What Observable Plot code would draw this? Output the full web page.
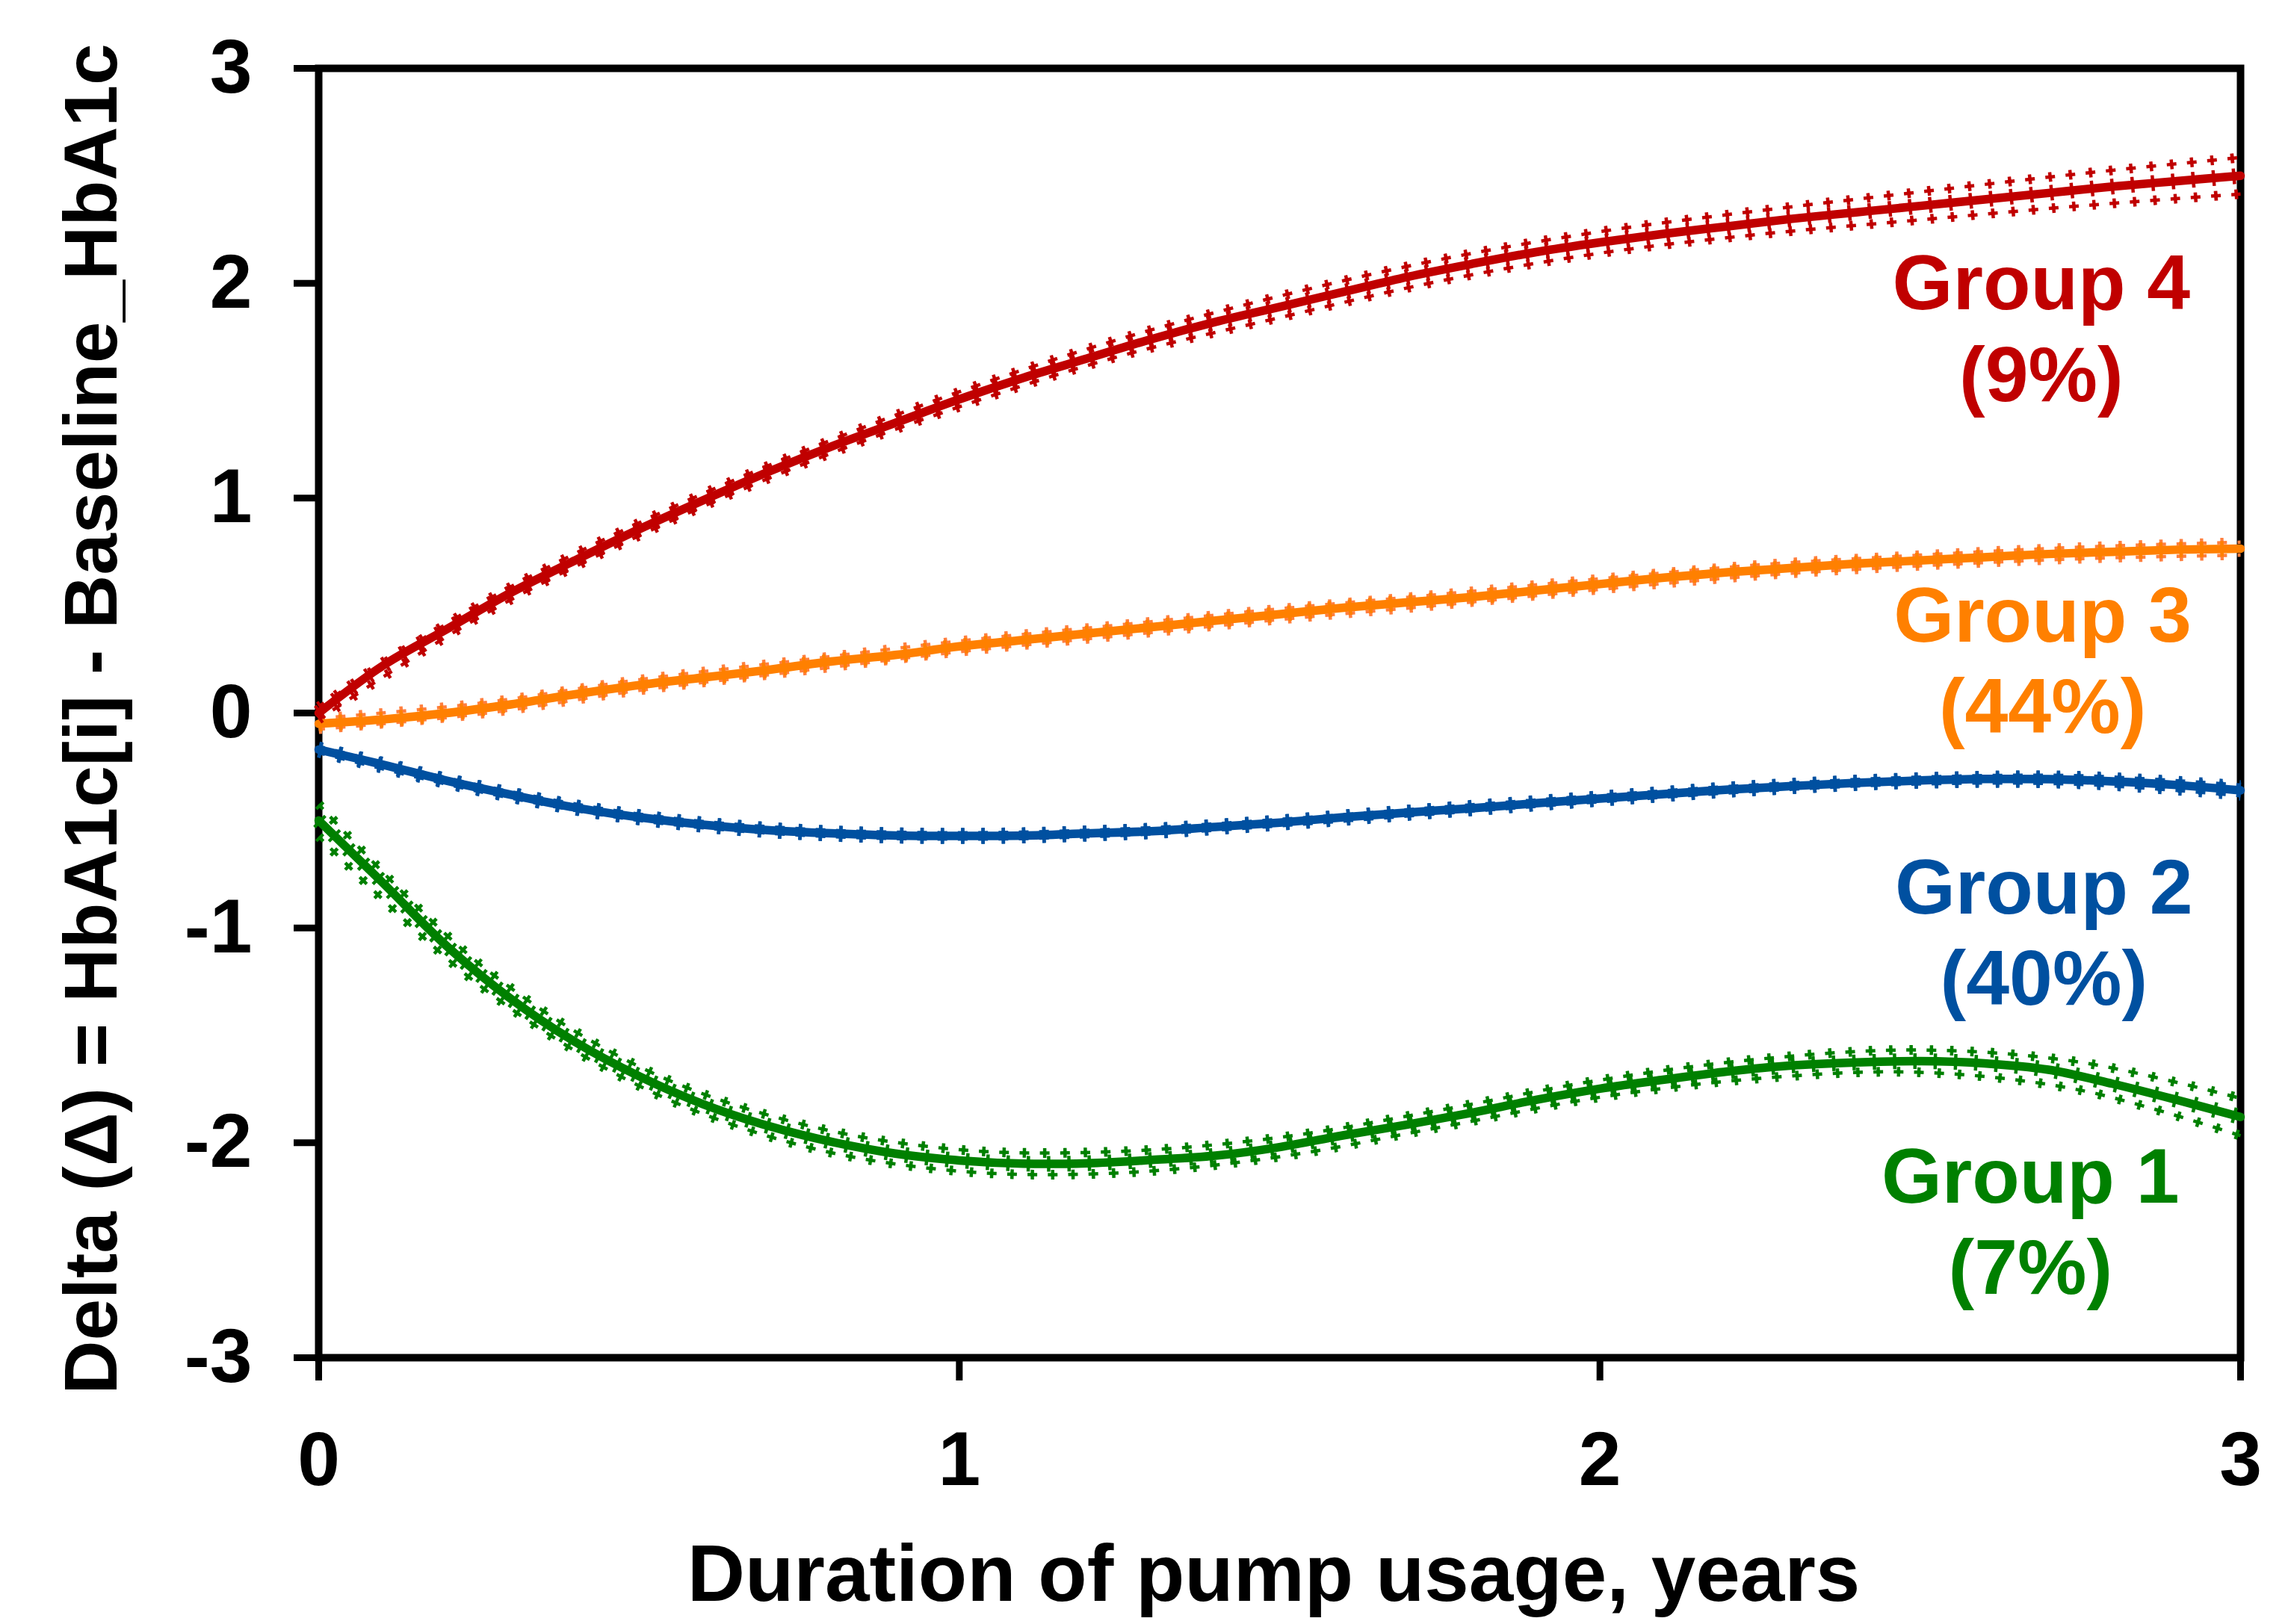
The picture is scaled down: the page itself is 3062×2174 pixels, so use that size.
<!DOCTYPE html>
<html><head><meta charset="utf-8">
<script src="https://cdn.jsdelivr.net/npm/d3@7"></script>
<script src="https://cdn.jsdelivr.net/npm/@observablehq/plot@0.6"></script>
<style>html,body{margin:0;padding:0;background:#fff;} #chart svg{display:block;}</style>
</head><body><div id="chart"></div>
<script>
// ---- Data ----
const groups = ["Group 1", "Group 2", "Group 3", "Group 4"];
const shares = ["7%", "40%", "44%", "9%"];
const lineColors = ["#008000", "#0050A0", "#FF8000", "#C00000"];
const bandColors = ["#008000", "#0050A0", "#FF7F3F", "#C00000"];

const years = [0, 0.1, 0.2, 0.3, 0.4, 0.5, 0.6, 0.7, 0.8, 0.9, 1.0, 1.1, 1.2, 1.3, 1.4, 1.5,
               1.6, 1.7, 1.8, 1.9, 2.0, 2.1, 2.2, 2.3, 2.4, 2.5, 2.6, 2.7, 2.8, 2.9, 3.0];
const group1Mean = [-0.50, -0.79, -1.085, -1.33, -1.53, -1.69, -1.82, -1.92, -1.995, -2.05, -2.082,
                    -2.097, -2.095, -2.08, -2.06, -2.02, -1.965, -1.915, -1.86, -1.80, -1.748,
                    -1.706, -1.668, -1.64, -1.626, -1.62, -1.63, -1.66, -1.725, -1.80, -1.88];
const group2Mean = [-0.17, -0.24, -0.315, -0.38, -0.44, -0.485, -0.52, -0.545, -0.56, -0.57, -0.572,
                    -0.57, -0.56, -0.55, -0.53, -0.51, -0.485, -0.463, -0.443, -0.42, -0.398,
                    -0.377, -0.356, -0.34, -0.325, -0.314, -0.307, -0.308, -0.318, -0.335, -0.36];
const group3Mean = [-0.05, -0.03, 0.00, 0.04, 0.087, 0.13, 0.165, 0.20, 0.24, 0.27, 0.31,
                    0.34, 0.37, 0.40, 0.43, 0.46, 0.49, 0.515, 0.54, 0.57, 0.60,
                    0.63, 0.655, 0.675, 0.695, 0.71, 0.725, 0.74, 0.75, 0.76, 0.765];
const group4Mean = [0.00, 0.22, 0.39, 0.56, 0.71, 0.855, 0.99, 1.12, 1.24, 1.35, 1.46,
                    1.56, 1.65, 1.74, 1.82, 1.89, 1.96, 2.03, 2.09, 2.145, 2.19,
                    2.23, 2.265, 2.30, 2.33, 2.36, 2.39, 2.42, 2.45, 2.475, 2.50];

const bandYears = [0, 0.25, 0.5, 0.75, 1.0, 1.25, 1.5, 1.75, 2.0, 2.25, 2.5, 2.75, 3.0];
const group1Upper = [-0.425, -1.165, -1.645, -1.91, -2.032, -2.04, -1.975, -1.848, -1.708, -1.61, -1.568, -1.625, -1.793];
const group1Lower = [-0.575, -1.265, -1.735, -2.01, -2.132, -2.14, -2.065, -1.928, -1.788, -1.70, -1.672, -1.755, -1.967];
const group2Upper = [-0.155, -0.335, -0.47, -0.538, -0.557, -0.54, -0.495, -0.438, -0.383, -0.333, -0.298, -0.292, -0.335];
const group2Lower = [-0.185, -0.365, -0.50, -0.568, -0.587, -0.57, -0.525, -0.468, -0.413, -0.363, -0.33, -0.332, -0.385];
const group3Upper = [-0.025, 0.045, 0.155, 0.245, 0.335, 0.41, 0.485, 0.552, 0.625, 0.69, 0.735, 0.772, 0.795];
const group3Lower = [-0.075, -0.005, 0.105, 0.195, 0.285, 0.36, 0.435, 0.502, 0.575, 0.64, 0.685, 0.718, 0.735];
const group4Upper = [0.03, 0.505, 0.885, 1.21, 1.495, 1.74, 1.94, 2.11, 2.24, 2.338, 2.425, 2.51, 2.585];
const group4Lower = [-0.03, 0.445, 0.825, 1.15, 1.425, 1.66, 1.84, 2.01, 2.14, 2.228, 2.295, 2.36, 2.415];

const xTicks = [0, 1, 2, 3];
const yTicks = [-3, -2, -1, 0, 1, 2, 3];

// annotation anchors (data space: years, delta)
const labelYears = [2.672, 2.693, 2.691, 2.689];
const labelDelta = [-2.704, -1.359, -0.093, 1.453];

const xTitle = "Duration of pump usage, years";
const yTitle = "Delta (\u0394) = HbA1c[i] - Baseline_HbA1c";

// ---- Build tables ----
const means = [group1Mean, group2Mean, group3Mean, group4Mean];
const uppers = [group1Upper, group2Upper, group3Upper, group4Upper];
const lowers = [group1Lower, group2Lower, group3Lower, group4Lower];

const meanRows = groups.map((g, i) => years.map((t, j) => ({group: g, t, v: means[i][j]})));
const bandRows = groups.map((g, i) => [
  ...bandYears.map((t, j) => ({group: g, side: "upper", t, v: uppers[i][j]})),
  ...bandYears.map((t, j) => ({group: g, side: "lower", t, v: lowers[i][j]}))
]);

const FONT = "'Liberation Sans', Arial, Helvetica, sans-serif";
const curve = "catmull-rom";

const seriesMarks = groups.flatMap((g, i) => [
  // confidence band: "+" markers (vertical bar)
  Plot.line(bandRows[i], {x: "t", y: "v", z: "side", stroke: bandColors[i], strokeWidth: 13,
    strokeDasharray: "4.5 22.7", strokeLinecap: "butt", curve}),
  // confidence band: "+" markers (horizontal bar)
  Plot.line(bandRows[i], {x: "t", y: "v", z: "side", stroke: bandColors[i], strokeWidth: 4.5,
    strokeDasharray: "13 14.2", strokeDashoffset: 4.25, strokeLinecap: "butt", curve}),
  // mean trajectory
  Plot.line(meanRows[i], {x: "t", y: "v", stroke: lineColors[i], strokeWidth: 11.5, curve}),
  // markers on the mean trajectory
  Plot.line(meanRows[i], {x: "t", y: "v", stroke: lineColors[i], strokeWidth: 21,
    strokeDasharray: "4.5 22.7", strokeLinecap: "butt", curve})
]);

const labelMarks = groups.map((g, i) =>
  Plot.text([{t: labelYears[i], v: labelDelta[i], label: `${g}\n(${shares[i]})`}], {
    x: "t", y: "v", text: "label", fill: lineColors[i], fontSize: 104, fontWeight: "bold",
    textAnchor: "middle", lineAnchor: "bottom", lineHeight: 1.18
  })
);

const chart = Plot.plot({
  width: 3062,
  height: 2174,
  marginTop: 91,
  marginRight: 64,
  marginBottom: 357,
  marginLeft: 426,
  style: {fontFamily: FONT, background: "#fff", color: "#000", fontSize: "100px"},
  x: {domain: [0, 3], label: null},
  y: {domain: [-3, 3], label: null},
  marks: [
    Plot.frame({stroke: "#000", strokeWidth: 10}),
    Plot.axisY(yTicks, {tickSize: 33, tickPadding: 56, tickFormat: d => String(d),
      fontSize: 102, fontWeight: "bold", strokeWidth: 9, stroke: "#000", fill: "#000", label: null}),
    Plot.axisX(xTicks, {tickSize: 31, tickPadding: 67, tickFormat: d => String(d),
      fontSize: 102, fontWeight: "bold", strokeWidth: 9, stroke: "#000", fill: "#000", label: null}),
    Plot.text([xTitle], {frameAnchor: "bottom", dy: 250, dx: -8, lineAnchor: "top",
      fontSize: 107, fontWeight: "bold", fill: "#000"}),
    Plot.text([yTitle], {frameAnchor: "left", rotate: -90, dx: -303, dy: 8, lineAnchor: "middle",
      textAnchor: "middle", fontSize: 100, fontWeight: "bold", fill: "#000"}),
    ...seriesMarks,
    ...labelMarks
  ]
});

document.getElementById("chart").appendChild(chart);
</script>
</body></html>
